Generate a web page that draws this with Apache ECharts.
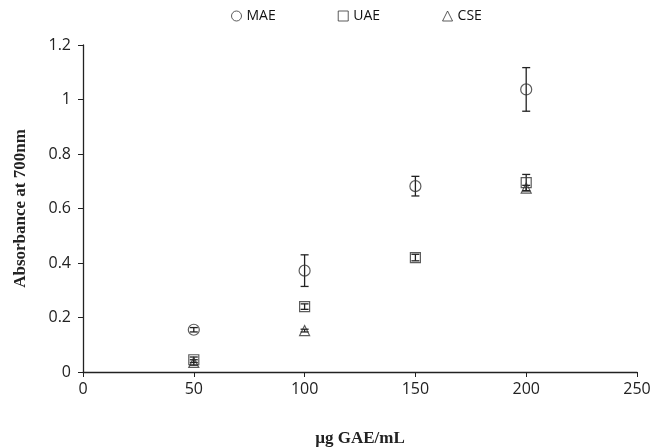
<!DOCTYPE html>
<html><head><meta charset="utf-8">
<script src="https://cdn.jsdelivr.net/npm/echarts@6/dist/echarts.min.js"></script>
<style>html,body{margin:0;padding:0;background:#fff}#c{width:655px;height:448px}</style>
</head><body><div id="c"></div>
<script>
const xValues = [50, 100, 150, 200];
const maeValues = [0.155, 0.372, 0.682, 1.037];
const maeErrors = [0.008, 0.058, 0.036, 0.08];
const uaeValues = [0.045, 0.24, 0.42, 0.695];
const uaeErrors = [0.01, 0.01, 0.012, 0.03];
const cseValues = [0.035, 0.152, null, 0.675];
const cseErrors = [0.01, 0.005, null, 0.01];
const seriesNames = ['MAE', 'UAE', 'CSE'];
const yTicks = [0, 0.2, 0.4, 0.6, 0.8, 1, 1.2];

function pts(vals){ return xValues.map((x,i)=> vals[i]==null ? null : [x, vals[i]]).filter(Boolean); }
function errPts(vals, errs){ return xValues.map((x,i)=> vals[i]==null ? null : [x, vals[i]-errs[i], vals[i]+errs[i]]).filter(Boolean); }

function errSeries(vals, errs){
  return {
    type:'custom', silent:true, z:1,
    data: errPts(vals, errs),
    renderItem: function(params, api){
      const lo = api.coord([api.value(0), api.value(1)]);
      const hi = api.coord([api.value(0), api.value(2)]);
      const w = 4;
      const st = {stroke:'#222', lineWidth:1.3};
      return {type:'group', children:[
        {type:'line', shape:{x1:lo[0],y1:lo[1],x2:hi[0],y2:hi[1]}, style:st},
        {type:'line', shape:{x1:lo[0]-w,y1:lo[1],x2:lo[0]+w,y2:lo[1]}, style:st},
        {type:'line', shape:{x1:hi[0]-w,y1:hi[1],x2:hi[0]+w,y2:hi[1]}, style:st}
      ]};
    }
  };
}
const markerStyle = {color:'rgba(0,0,0,0)', borderColor:'#333', borderWidth:1.2};
const chart = echarts.init(document.getElementById('c'));
chart.setOption({
  animation:false,
  legend:{
    data: seriesNames, top:4, left:226, itemGap:62, itemWidth:10, itemHeight:10,
    textStyle:{fontFamily:'Open Sans', fontSize:14, color:'#111'},
    itemStyle:{color:'rgba(0,0,0,0)', borderColor:'#333', borderWidth:1}
  },
  grid:{left:83, right:18, top:45, bottom:76, outerBoundsMode:'none', containLabel:false},
  xAxis:{
    type:'value', min:0, max:250, interval:50,
    name:'µg GAE/mL', nameLocation:'middle', nameGap:58,
    nameTextStyle:{fontFamily:'Liberation Serif', fontWeight:'bold', fontSize:17, color:'#222'},
    axisLine:{lineStyle:{color:'#222', width:1.3}},
    axisTick:{inside:false, length:5, lineStyle:{color:'#222'}},
    axisLabel:{fontFamily:'Open Sans', fontSize:16, color:'#222', margin:9},
    splitLine:{show:false}
  },
  yAxis:{
    type:'value', min:0, max:1.2, interval:0.2,
    name:'Absorbance at 700nm', nameLocation:'middle', nameGap:54,
    nameTextStyle:{fontFamily:'Liberation Serif', fontWeight:'bold', fontSize:17, color:'#222'},
    axisLine:{show:true, lineStyle:{color:'#222', width:1.3}},
    axisTick:{show:true, length:5, lineStyle:{color:'#222'}},
    axisLabel:{fontFamily:'Open Sans', fontSize:16, color:'#222', margin:12,
      formatter: v => { const t = yTicks.find(x=>Math.abs(x-v)<1e-9); return String(t===undefined?v:t); }},
    splitLine:{show:false}
  },
  series:[
    errSeries(maeValues, maeErrors),
    errSeries(uaeValues, uaeErrors),
    errSeries(cseValues, cseErrors),
    {name:'MAE', type:'scatter', symbol:'circle', symbolSize:11, data:pts(maeValues), itemStyle:markerStyle, z:3},
    {name:'UAE', type:'scatter', symbol:'rect', symbolSize:10, data:pts(uaeValues), itemStyle:markerStyle, z:3},
    {name:'CSE', type:'scatter', symbol:'triangle', symbolSize:10, data:pts(cseValues), itemStyle:markerStyle, z:3}
  ]
});
</script></body></html>
